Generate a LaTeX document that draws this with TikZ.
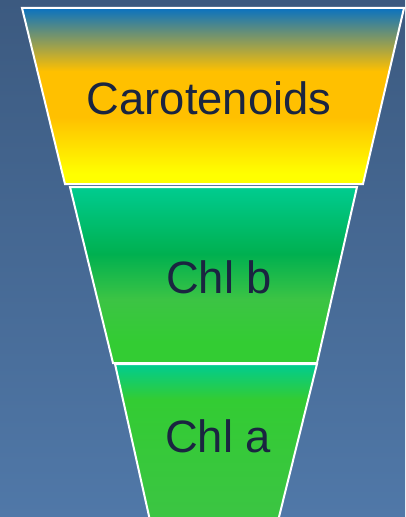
\documentclass[tikz,border=0pt]{standalone}
\usepackage{fontspec}
\setmainfont{Liberation Sans}
\usetikzlibrary{positioning}

\definecolor{bgtop}{HTML}{3C5A80}
\definecolor{bgbot}{HTML}{5078A8}
\definecolor{caroblue}{HTML}{0A72C0}
\definecolor{caroorg}{HTML}{FFC000}
\definecolor{caroyel}{HTML}{FFFF00}
\definecolor{chlteal}{HTML}{00CC90}
\definecolor{chldark}{HTML}{00B050}
\definecolor{chlmid}{HTML}{3CC444}
\definecolor{chllight}{HTML}{33CC33}
\definecolor{labeltext}{HTML}{1A2540}

\pgfdeclareverticalshading{carofill}{100bp}{color(0bp)=(caroyel); color(28bp)=(caroyel); color(44bp)=(caroorg); color(57bp)=(caroorg); color(75bp)=(caroblue); color(100bp)=(caroblue)}
\pgfdeclareverticalshading{chlbfill}{100bp}{color(0bp)=(chllight); color(31bp)=(chllight); color(43bp)=(chlmid); color(56bp)=(chldark); color(75bp)=(chlteal); color(100bp)=(chlteal)}
\pgfdeclareverticalshading{chlafill}{100bp}{color(0bp)=(chlmid); color(25bp)=(chlmid); color(64bp)=(chllight); color(75bp)=(chlteal); color(100bp)=(chlteal)}

\begin{document}
\begin{tikzpicture}[x=0.75pt, y=-0.75pt,
  layer/.style={draw=white, line width=1.5pt, line join=miter},
  pigment/.style={text=labeltext, font=\fontsize{34}{40}\selectfont, anchor=base}]
  \useasboundingbox (0,0) rectangle (405,517);
  \shade[top color=bgtop, bottom color=bgbot] (0,0) rectangle (405,517);

  % funnel layers
  \shade[layer, shading=carofill] (22,8) -- (404,8) -- (363,184) -- (65,184) -- cycle;
  \shade[layer, shading=chlbfill] (70,187) -- (357,187) -- (317,363) -- (113,363) -- cycle;
  \shade[layer, shading=chlafill] (115,364) -- (317,364) -- (277,525) -- (151,525) -- cycle;

  % labels
  \node[pigment] (caro) at (209,114) {Carotenoids};
  \node[pigment] (chlb) at (219,293) {Chl b};
  \node[pigment] (chla) at (218,452) {Chl a};
\end{tikzpicture}
\end{document}
